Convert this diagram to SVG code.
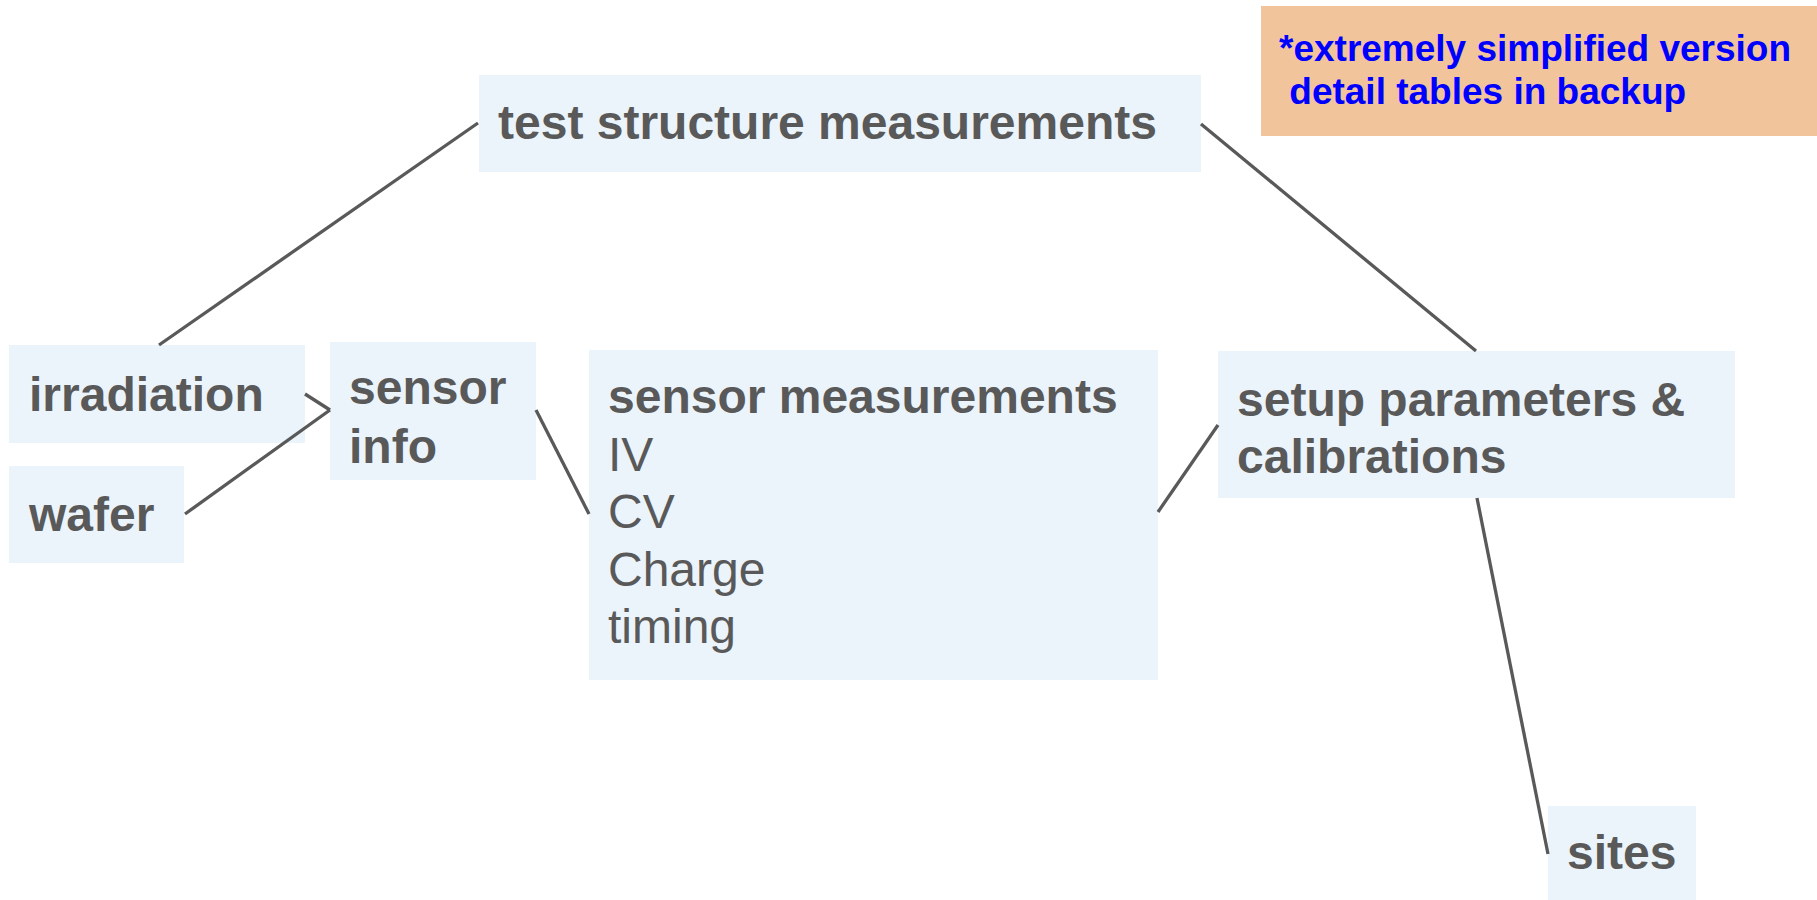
<svg xmlns="http://www.w3.org/2000/svg" width="1817" height="900" viewBox="0 0 1817 900">
<style>
.box{fill:#ebf3fb;}
.t{font-family:"Liberation Sans",Arial,sans-serif;font-size:48px;fill:#595959;}
.b{font-weight:bold;}
.note{font-family:"Liberation Sans",Arial,sans-serif;font-size:37px;font-weight:bold;fill:#0000ff;}
.c line{stroke:#595959;stroke-width:3.3;}
</style>
<rect width="1817" height="900" fill="#ffffff"/>
<g id="note">
<rect x="1261" y="6" width="556" height="130" fill="#f2c49b"/>
<text class="note" x="1279" y="61">*extremely simplified version</text>
<text class="note" x="1279" y="104" xml:space="preserve"> detail tables in backup</text>
</g>
<g id="test-structure">
<rect class="box" x="479" y="75" width="722" height="97"/>
<text class="t b" x="498" y="139">test structure measurements</text>
</g>
<g id="irradiation">
<rect class="box" x="9" y="345" width="296" height="98"/>
<text class="t b" x="29" y="411">irradiation</text>
</g>
<g id="wafer">
<rect class="box" x="9" y="466" width="175" height="97"/>
<text class="t b" x="29" y="531">wafer</text>
</g>
<g id="sensor-info">
<rect class="box" x="330" y="342" width="206" height="138"/>
<text class="t b" x="349" y="404">sensor</text>
<text class="t b" x="349" y="463">info</text>
</g>
<g id="sensor-measurements">
<rect class="box" x="589" y="350" width="569" height="330"/>
<text class="t b" x="608" y="413">sensor measurements</text>
<text class="t" x="608" y="471">IV</text>
<text class="t" x="608" y="528">CV</text>
<text class="t" x="608" y="586">Charge</text>
<text class="t" x="608" y="643">timing</text>
</g>
<g id="setup">
<rect class="box" x="1218" y="351" width="517" height="147"/>
<text class="t b" x="1237" y="416">setup parameters &amp;</text>
<text class="t b" x="1237" y="473">calibrations</text>
</g>
<g id="sites">
<rect class="box" x="1548" y="806" width="148" height="94"/>
<text class="t b" x="1567" y="869">sites</text>
</g>
<g id="connectors" class="c">
<line x1="478" y1="123" x2="159" y2="345"/>
<line x1="1201" y1="124" x2="1476" y2="351"/>
<line x1="305" y1="394" x2="330" y2="410"/>
<line x1="185" y1="514" x2="330" y2="410"/>
<line x1="536" y1="410" x2="589" y2="514"/>
<line x1="1158" y1="512" x2="1218" y2="425"/>
<line x1="1477" y1="498" x2="1548" y2="854"/>
</g>
</svg>
